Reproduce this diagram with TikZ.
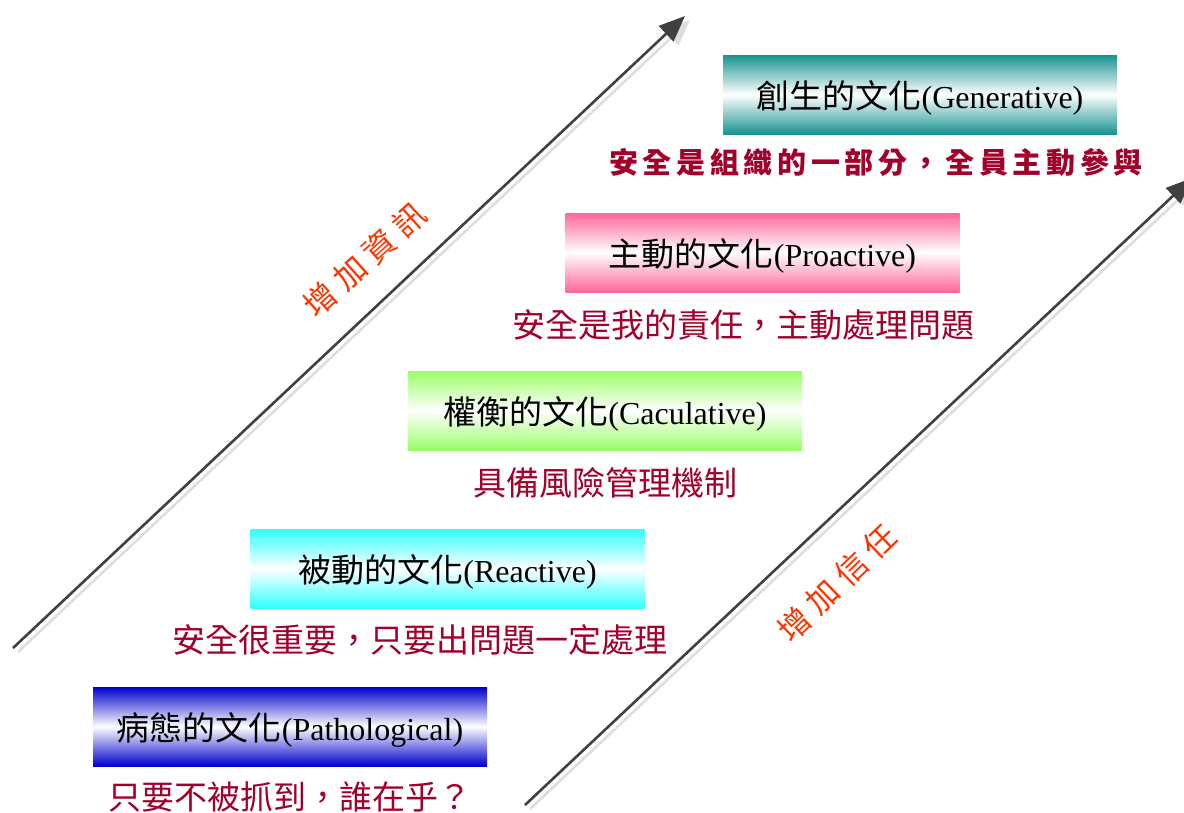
\documentclass[tikz,border=0pt]{standalone}
\usepackage{fontspec}
\setmainfont{Liberation Serif}
\newfontfamily\cjk{Noto Sans CJK TC}
\newfontfamily\cjkwide[LetterSpace=16]{Noto Sans CJK TC}
\newfontfamily\cjkdiag[LetterSpace=24]{Noto Sans CJK TC}
\newcommand\boxcjk[1]{{\cjk\fontsize{33}{33}\selectfont #1}}
\usetikzlibrary{arrows.meta}
\definecolor{arrowgray}{RGB}{64,64,64}
\definecolor{shadowgray}{RGB}{222,222,222}
\definecolor{subred}{RGB}{160,0,42}
\definecolor{diagred}{RGB}{255,51,0}
\definecolor{cteal}{RGB}{24,148,144}
\definecolor{cpink}{RGB}{255,102,153}
\definecolor{cgreen}{RGB}{153,255,102}
\definecolor{ccyan}{RGB}{51,255,255}
\definecolor{cblue}{RGB}{0,0,204}
\tikzset{
  culturebox/.style n args={1}{minimum width=394pt, minimum height=79pt, inner sep=0pt,
    top color=#1, bottom color=#1, middle color=white,
    text height=31pt, text depth=3pt,
    font=\fontsize{32}{32}\selectfont, text=black},
  subtitle/.style={text=subred, inner sep=0pt, text height=29pt, text depth=4pt,
    font=\cjk\fontsize{33}{33}\selectfont},
  topsubtitle/.style={text=subred, inner sep=0pt, text height=26pt, text depth=3.5pt,
    font=\cjkwide\bfseries\fontsize{29}{29}\selectfont},
  diaglabel/.style={text=diagred, inner sep=0pt, text height=28pt, text depth=4pt,
    font=\cjkdiag\fontsize{32}{32}\selectfont},
  mainarrow/.style={draw=arrowgray, line width=2.6pt, -{Triangle[length=26pt,width=21pt]}},
  shadowarrow/.style={draw=shadowgray, line width=2.6pt, -{Triangle[length=26pt,width=21pt]}}
}
\begin{document}
\begin{tikzpicture}[x=1pt,y=-1pt]
\useasboundingbox (0,0) rectangle (1184,812);
\clip (0,0) rectangle (1184,812);

% arrow coordinates
\coordinate (a1s) at (13,648);
\coordinate (a1e) at (685,16);
\coordinate (a2s) at (525,805);
\coordinate (a2e) at (1192,178);

% shadows
\draw[shadowarrow] ([shift={(5,4)}]a1s) -- ([shift={(5,4)}]a1e);
\draw[shadowarrow] ([shift={(5,4)}]a2s) -- ([shift={(5,4)}]a2e);
% arrows
\draw[mainarrow] (a1s) -- (a1e);
\draw[mainarrow] (a2s) -- (a2e);

% boxes
\node[culturebox=cteal] (gen) at (920,94.5) {\boxcjk{創生的文化}(Generative)};
\node[culturebox=cpink] (pro) at (762.5,252.5) {\boxcjk{主動的文化}(Proactive)};
\node[culturebox=cgreen] (cal) at (605,410.5) {\boxcjk{權衡的文化}(Caculative)};
\node[culturebox=ccyan] (rea) at (447.5,568.5) {\boxcjk{被動的文化}(Reactive)};
\node[culturebox=cblue] (pat) at (290,726.5) {\boxcjk{病態的文化}(Pathological)};

% subtitles
\node[topsubtitle] (genS) at (876,162) {安全是組織的一部分，全員主動參與};
\node[subtitle] (proS) at (743.5,325) {安全是我的責任，主動處理問題};
\node[subtitle] (calS) at (605,483) {具備風險管理機制};
\node[subtitle] (reaS) at (420,640) {安全很重要，只要出問題一定處理};
\node[subtitle] (patS) at (289.5,797) {只要不被抓到，誰在乎？};

% diagonal labels
\node[diaglabel, rotate=42] (info) at (365,260) {增加資訊};
\node[diaglabel, rotate=44] (trust) at (837,583) {增加信任};
\end{tikzpicture}
\end{document}
